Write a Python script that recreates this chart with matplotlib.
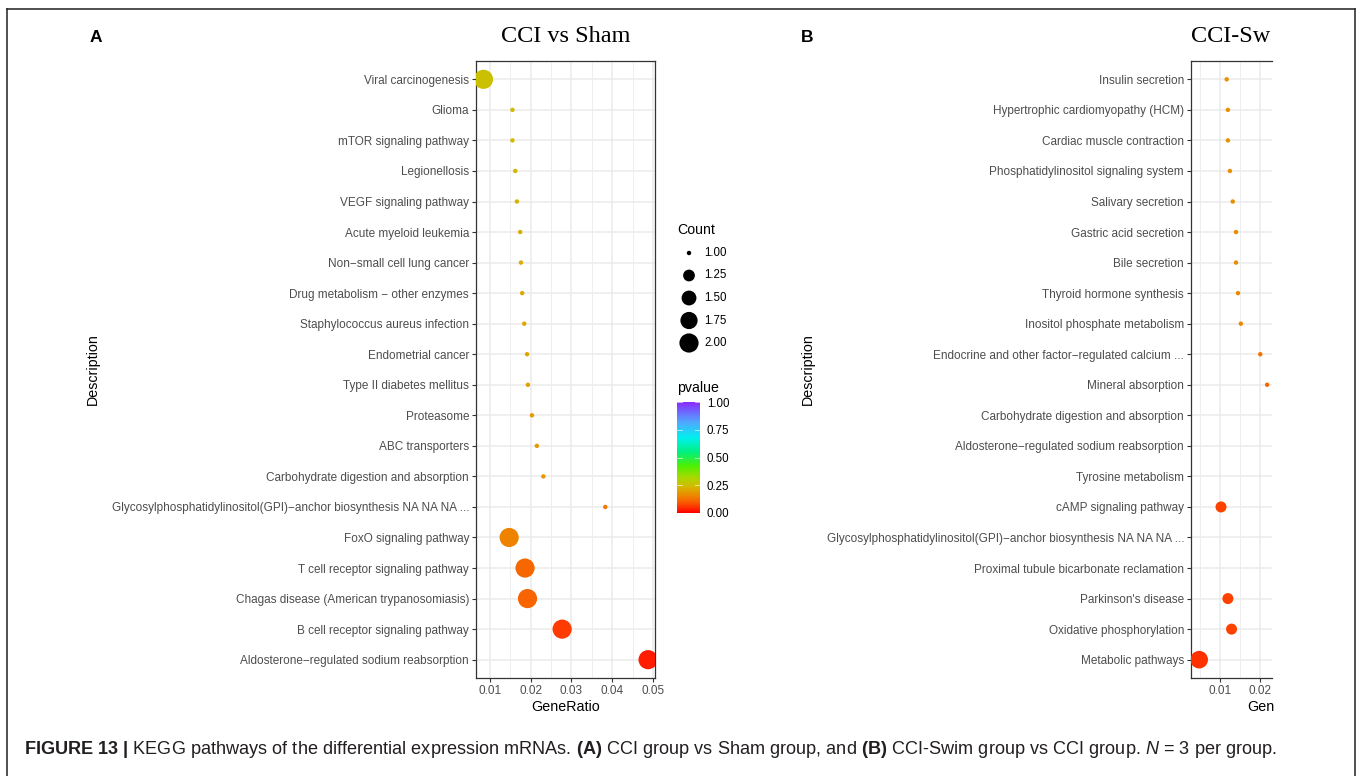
import numpy as np
import matplotlib
matplotlib.use('Agg')
import matplotlib.pyplot as plt
from matplotlib.colors import LinearSegmentedColormap, Normalize
from matplotlib.lines import Line2D
from matplotlib.ticker import MultipleLocator, FormatStrFormatter
import matplotlib as mpl

plt.rcParams['font.family'] = ['Liberation Sans', 'DejaVu Sans']
plt.rcParams['mathtext.fontset'] = 'custom'
plt.rcParams['mathtext.rm'] = 'Liberation Sans'
plt.rcParams['mathtext.bf'] = 'Liberation Sans:bold'
plt.rcParams['mathtext.it'] = 'Liberation Sans:italic'

# ---- panel A: CCI vs Sham (top to bottom) ----
terms_a = ['Viral carcinogenesis', 'Glioma', 'mTOR signaling pathway', 'Legionellosis',
           'VEGF signaling pathway', 'Acute myeloid leukemia', 'Non\u2212small cell lung cancer',
           'Drug metabolism \u2212 other enzymes', 'Staphylococcus aureus infection',
           'Endometrial cancer', 'Type II diabetes mellitus', 'Proteasome', 'ABC transporters',
           'Carbohydrate digestion and absorption',
           'Glycosylphosphatidylinositol(GPI)\u2212anchor biosynthesis NA NA NA ...',
           'FoxO signaling pathway', 'T cell receptor signaling pathway',
           'Chagas disease (American trypanosomiasis)', 'B cell receptor signaling pathway',
           'Aldosterone\u2212regulated sodium reabsorption']
ratio_a = [0.0084, 0.0155, 0.0155, 0.0162, 0.0166, 0.0174, 0.0176, 0.0179, 0.0184, 0.0191,
           0.0193, 0.0203, 0.0215, 0.0231, 0.0383, 0.0147, 0.0186, 0.0192, 0.0277, 0.0488]
count_a = [2, 1, 1, 1, 1, 1, 1, 1, 1, 1, 1, 1, 1, 1, 1, 2, 2, 2, 2, 2]
pval_a = [0.25, 0.24, 0.24, 0.232, 0.23, 0.22, 0.218, 0.212, 0.205, 0.2,
          0.198, 0.19, 0.185, 0.178, 0.14, 0.15, 0.11, 0.108, 0.06, 0.03]

# ---- panel B: CCI-Swim vs CCI (top to bottom); the source figure is cut off on the right ----
terms_b = ['Insulin secretion', 'Hypertrophic cardiomyopathy (HCM)', 'Cardiac muscle contraction',
           'Phosphatidylinositol signaling system', 'Salivary secretion', 'Gastric acid secretion',
           'Bile secretion', 'Thyroid hormone synthesis', 'Inositol phosphate metabolism',
           'Endocrine and other factor\u2212regulated calcium ...', 'Mineral absorption',
           'Carbohydrate digestion and absorption', 'Aldosterone\u2212regulated sodium reabsorption',
           'Tyrosine metabolism', 'cAMP signaling pathway',
           'Glycosylphosphatidylinositol(GPI)\u2212anchor biosynthesis NA NA NA ...',
           'Proximal tubule bicarbonate reclamation', "Parkinson's disease",
           'Oxidative phosphorylation', 'Metabolic pathways']
ratio_b = [0.0117, 0.0120, 0.0120, 0.0125, 0.0132, 0.0140, 0.0140, 0.0145, 0.0152, 0.0200,
           0.0217, 0.0300, 0.0340, 0.0370, 0.0103, 0.0445, 0.0410, 0.0120, 0.0129, 0.0049]
count_b = [1, 1, 1, 1, 1, 1, 1, 1, 1, 1, 1, 2, 6, 1, 2, 1, 2, 2, 2, 5]
pval_b = [0.175, 0.175, 0.175, 0.17, 0.168, 0.165, 0.165, 0.16, 0.155, 0.125,
          0.115, 0.10, 0.08, 0.15, 0.07, 0.14, 0.09, 0.07, 0.068, 0.05]

count_legend = [1.00, 1.25, 1.50, 1.75, 2.00]
pval_ticks = [0.0, 0.25, 0.50, 0.75, 1.00]

W, H = 1358, 776
fig = plt.figure(figsize=(W / 100, H / 100), dpi=100)


def px(x0, y0, x1, y1):
    return [x0 / W, 1 - y1 / H, (x1 - x0) / W, (y1 - y0) / H]


cmap = LinearSegmentedColormap.from_list('pv', [
    (0.00, '#FF0000'), (0.05, '#FF3300'), (0.10, '#F86000'), (0.15, '#EE8400'),
    (0.20, '#E0A400'), (0.25, '#CCC000'), (0.32, '#A8D800'), (0.42, '#50F000'),
    (0.55, '#00F080'), (0.68, '#00F0F0'), (0.82, '#50A8FF'), (1.00, '#8A2BFF')])


def point_size(c, cmin, cmax):
    r = (np.asarray(c, dtype=float) - cmin) / (cmax - cmin)
    size = 1 + 5 * np.sqrt(r)          # ggplot area scale, range 1..6
    d_px = 2.95 * (size + 0.5)
    return (d_px * 0.72) ** 2


def dot_panel(ax, width_px, terms, ratio, count, pval, xlim,
              title, title_x, title_ha, xlab, xlab_x, xlab_ha):
    n = len(terms)
    y = np.arange(n)[::-1]
    ax.scatter(ratio, y, s=point_size(count, min(count), max(count)), c=pval,
               cmap=cmap, vmin=0, vmax=1, linewidths=0, zorder=3)
    ax.set_yticks(y)
    ax.set_yticklabels(terms)
    ax.set_ylim(-0.6, n - 1 + 0.6)
    ax.set_xlim(*xlim)
    ax.xaxis.set_major_locator(MultipleLocator(0.01))
    ax.xaxis.set_minor_locator(MultipleLocator(0.005))
    ax.xaxis.set_major_formatter(FormatStrFormatter('%.2f'))
    ax.grid(which='major', color='#EBEBEB', lw=1.1)
    ax.grid(which='minor', axis='x', color='#EBEBEB', lw=0.6)
    ax.set_axisbelow(True)
    for s in ax.spines.values():
        s.set_color('#333333')
        s.set_linewidth(0.9)
    ax.tick_params(which='major', length=3, width=0.8, color='#333333',
                   labelsize=8.5, labelcolor='#4D4D4D', pad=2)
    ax.tick_params(which='minor', length=0)
    ax.text(xlab_x, -29 / 617, xlab, transform=ax.transAxes, ha=xlab_ha, va='center',
            fontsize=10.3)
    ax.set_ylabel('Description', fontsize=10.3, va='center')
    ax.yaxis.set_label_coords(-383 / width_px, 0.5)
    ax.text(title_x, 1 + 24 / 617, title, transform=ax.transAxes, ha=title_ha, va='center',
            fontfamily='Liberation Serif', fontsize=17.5)


axA = fig.add_axes(px(476, 61, 655, 678))
dot_panel(axA, 179, terms_a, ratio_a, count_a, pval_a, (0.00656, 0.0505),
          'CCI vs Sham', 0.5, 'center', 'GeneRatio', 0.5, 'center')

axB = fig.add_axes(px(1191, 61, 1272, 678))
dot_panel(axB, 81, terms_b, ratio_b, count_b, pval_b, (0.00288, 0.0229),
          'CCI-Sw', 0.0, 'left', 'Gen', (1247 - 1191) / 81, 'left')
axB.spines['right'].set_visible(False)

# ---- legends for panel A ----
leg = fig.add_axes([0, 0, 1, 1], zorder=-1)
leg.set_xlim(0, W)
leg.set_ylim(H, 0)
leg.axis('off')
leg.text(677, 230, 'Count', fontsize=10.2, ha='left', va='center')
key_y = 253 + 22.5 * np.arange(len(count_legend))
leg.scatter(np.full(len(count_legend), 689), key_y,
            s=point_size(count_legend, 1, 2), color='black', linewidths=0)
for yy, v in zip(key_y, count_legend):
    leg.text(704, yy, f'{v:.2f}', fontsize=8.3, ha='left', va='center')
leg.text(677, 388, 'pvalue', fontsize=10.2, ha='left', va='center')

cax = fig.add_axes(px(677, 400, 700, 515))
cb = mpl.colorbar.ColorbarBase(cax, cmap=cmap, norm=Normalize(0, 1), ticks=pval_ticks)
cb.outline.set_visible(False)
cb.ax.yaxis.set_major_formatter(FormatStrFormatter('%.2f'))
cax.tick_params(length=0, labelsize=8.3, pad=5)
for t in pval_ticks:
    cax.plot([0, 0.2], [t, t], color='white', lw=0.6, alpha=0.7)
    cax.plot([0.8, 1], [t, t], color='white', lw=0.6, alpha=0.7)
cax.set_xlim(0, 1)
cax.set_ylim(-0.02, 1.02)

# ---- panel letters, caption, frame ----
fig.text(96 / W, 1 - 37 / H, 'A', fontsize=12.5, fontweight='bold', ha='center', va='center')
fig.text(807 / W, 1 - 37 / H, 'B', fontsize=12.5, fontweight='bold', ha='center', va='center')

fig.text(24 / W, 1 - 750 / H,
         r'$\mathbf{FIGURE\ 13\ |}$ KEGG pathways of the differential expression mRNAs. '
         r'$\mathbf{(A)}$ CCI group vs Sham group, and $\mathbf{(B)}$ CCI-Swim group vs CCI group. '
         r'$\mathit{N}$ = 3 per group.',
         fontsize=13.1, ha='left', va='center', color='#231F20')

for xs, ys in [([7, 7], [9, H]), ([7, 1355], [9, 9]), ([1355, 1355], [9, H])]:
    fig.add_artist(Line2D([x / W for x in xs], [1 - y / H for y in ys],
                          transform=fig.transFigure, color='#231F20', lw=1.1, zorder=11))

fig.savefig('out.png', dpi=100, facecolor='white')
